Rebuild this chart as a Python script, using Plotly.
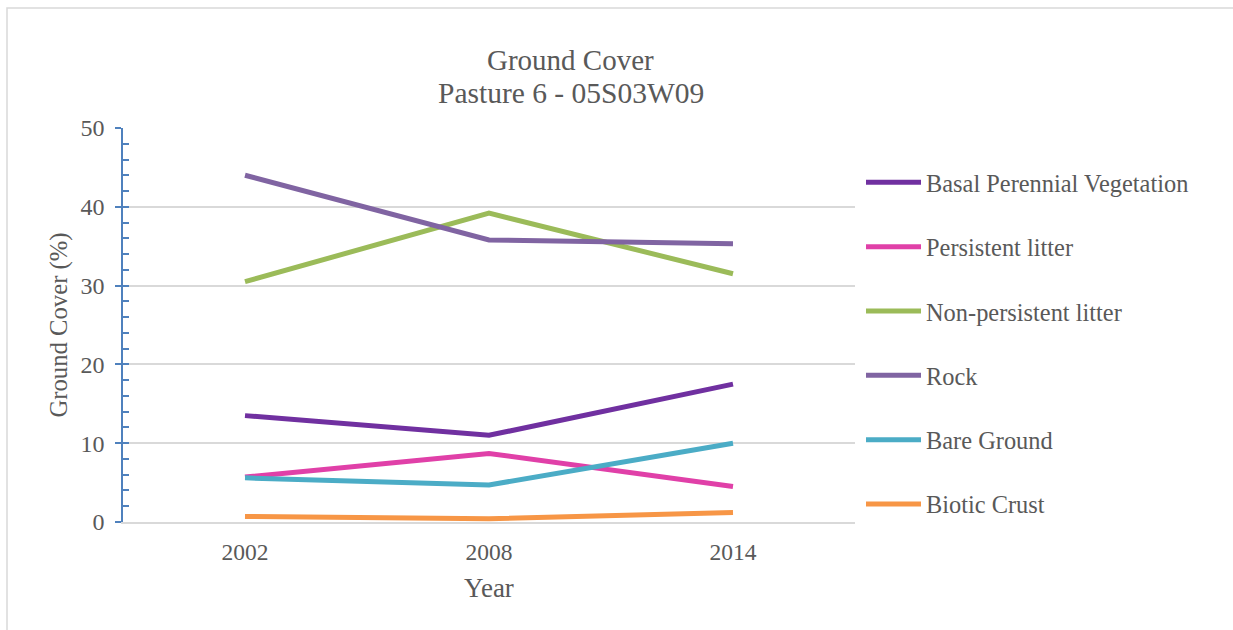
import plotly.graph_objects as go

years = ["2002", "2008", "2014"]
series_names = ["Basal Perennial Vegetation", "Persistent litter", "Non-persistent litter",
                "Rock", "Bare Ground", "Biotic Crust"]
basal = [13.5, 11.0, 17.5]
persistent = [5.7, 8.7, 4.5]
non_persistent = [30.5, 39.2, 31.5]
rock = [44.0, 35.8, 35.3]
bare_ground = [5.6, 4.7, 10.0]
biotic_crust = [0.7, 0.4, 1.2]
colors = ["#7030A0", "#E040A8", "#9BBB59", "#8064A2", "#4BACC6", "#F79646"]

values = [basal, persistent, non_persistent, rock, bare_ground, biotic_crust]

FONT = "Liberation Serif, Times New Roman, serif"
TXT = "#595959"

fig = go.Figure()
for i, (name, vals, col) in enumerate(zip(series_names, values, colors)):
    fig.add_trace(go.Scatter(x=years, y=vals, name=name, mode="lines",
                             line=dict(color=col, width=5),
                             legendgroup=f"g{i}"))

# invisible trace on overlay axis for inside ticks
fig.add_trace(go.Scatter(x=years, y=basal, yaxis="y2", mode="lines",
                         line=dict(width=0), opacity=0, showlegend=False,
                         hoverinfo="skip"))

L, R, T, B = 123, 378, 128, 108
W, H = 1233, 630
pw, ph = W - L - R, H - T - B

def px(x):
    return (x - L) / pw

def py(y):
    return (H - B - y) / ph

fig.update_layout(
    width=W, height=H,
    margin=dict(l=L, r=R, t=T, b=B),
    paper_bgcolor="white", plot_bgcolor="white",
    font=dict(family=FONT, color=TXT, size=23),
    showlegend=True,
    legend=dict(x=px(861), y=py(160), xanchor="left", yanchor="top",
                font=dict(family=FONT, size=24.4, color=TXT),
                tracegroupgap=29.6, itemwidth=55, bgcolor="rgba(0,0,0,0)"),
    xaxis=dict(type="category", range=[-0.5, 2.5], showgrid=False,
               showline=True, linecolor="#D9D9D9", linewidth=1.5,
               ticks="", ticklabelstandoff=8,
               tickfont=dict(family=FONT, size=23.5, color=TXT),
               title=dict(text="Year", font=dict(family=FONT, size=27, color=TXT), standoff=14)),
    yaxis=dict(range=[0, 50], dtick=10, showgrid=True, gridcolor="#D9D9D9", gridwidth=1.5,
               zeroline=False, showline=True, linecolor="#4F81BD", linewidth=1.5,
               ticks="outside", ticklen=6, tickcolor="#4F81BD", tickwidth=1.5,
               ticklabelstandoff=6,
               tickfont=dict(family=FONT, size=24, color=TXT),
               title=dict(text="Ground Cover (%)", font=dict(family=FONT, size=24.7, color=TXT), standoff=6)),
    yaxis2=dict(range=[0, 50], overlaying="y", side="left", dtick=2,
                showgrid=False, zeroline=False, showline=False,
                ticks="inside", ticklen=6, tickcolor="#4F81BD", tickwidth=1.5,
                showticklabels=False),
)

fig.add_shape(type="rect", xref="paper", yref="paper",
              x0=px(7), x1=px(1260), y0=py(660), y1=py(8),
              line=dict(color="#D9D9D9", width=1.5), fillcolor="rgba(0,0,0,0)", layer="below")

fig.add_annotation(text="Ground Cover", xref="paper", yref="paper", x=px(570), y=py(60),
                   xanchor="center", yanchor="middle", showarrow=False,
                   font=dict(family=FONT, size=29, color=TXT))
fig.add_annotation(text="Pasture 6 - 05S03W09", xref="paper", yref="paper", x=px(571), y=py(93),
                   xanchor="center", yanchor="middle", showarrow=False,
                   font=dict(family=FONT, size=29.5, color=TXT))

fig.write_html("out.html")
